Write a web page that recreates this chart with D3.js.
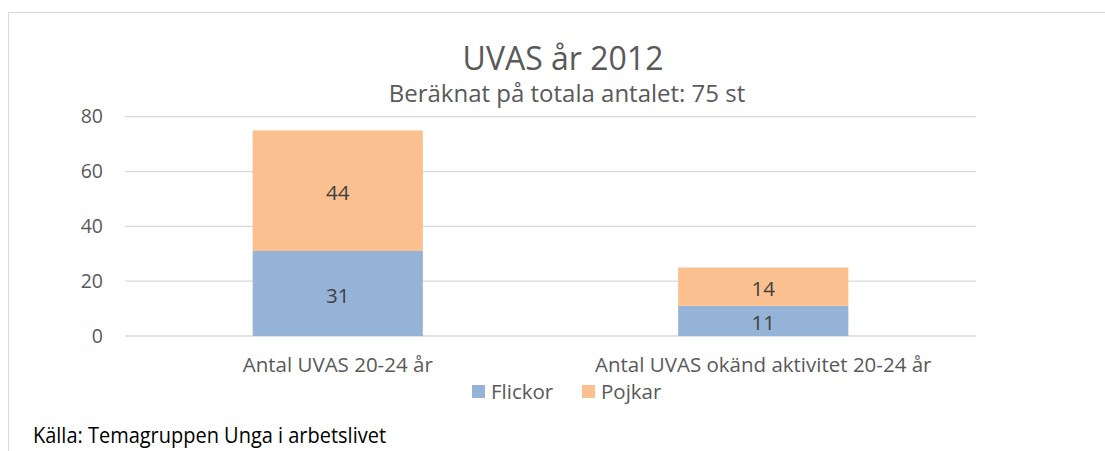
<!DOCTYPE html>
<html>
<head>
<meta charset="utf-8">
<script src="https://cdn.jsdelivr.net/npm/d3@7"></script>
<style>
  body { margin: 0; background: #fff; }
  svg { display: block; font-family: 'Open Sans', sans-serif; }
</style>
</head>
<body>
<svg></svg>
<script>
const categories = ['Antal UVAS 20-24 år', 'Antal UVAS okänd aktivitet 20-24 år'];
const seriesNames = ['Flickor', 'Pojkar'];
const flickor = [31, 11];
const pojkar = [44, 14];
const yTicks = [0, 20, 40, 60, 80];
const colors = ['#95b3d7', '#fac090'];

const width = 1105;
const height = 451;

const svg = d3.select('svg')
    .attr('width', width)
    .attr('height', height);

// chart frame
svg.append('rect')
    .attr('x', 8.5).attr('y', 12.5)
    .attr('width', 1110).attr('height', 450)
    .attr('fill', 'none')
    .attr('stroke', '#d9d9d9');

const x = d3.scaleBand()
    .domain(categories)
    .range([125, 976])
    .paddingInner(0.6)
    .paddingOuter(0.3);

const y = d3.scaleLinear()
    .domain([0, 80])
    .range([336, 116.7]);

// gridlines
svg.append('g')
    .selectAll('line')
    .data(yTicks)
    .enter()
    .append('line')
    .attr('x1', 125).attr('x2', 976)
    .attr('y1', d => y(d)).attr('y2', d => y(d))
    .attr('stroke', '#d9d9d9')
    .attr('stroke-width', 1.3);

const yAxis = d3.axisLeft(y).tickValues(yTicks).tickSize(0).tickPadding(0);
svg.append('g')
    .attr('transform', 'translate(103,0)')
    .call(yAxis)
    .call(g => g.select('.domain').remove())
    .selectAll('text')
    .attr('font-size', 19.5)
    .attr('font-family', "'Open Sans', sans-serif")
    .attr('fill', '#595959');

const table = categories.map((c, i) => ({ cat: c, Flickor: flickor[i], Pojkar: pojkar[i] }));
const stacked = d3.stack().keys(seriesNames)(table);

const layers = svg.append('g')
    .selectAll('g')
    .data(stacked)
    .enter()
    .append('g')
    .attr('fill', (d, i) => colors[i]);

layers.selectAll('rect')
    .data(d => d)
    .enter()
    .append('rect')
    .attr('x', d => x(d.data.cat))
    .attr('width', x.bandwidth())
    .attr('y', d => y(d[1]))
    .attr('height', d => y(d[0]) - y(d[1]));

layers.selectAll('text')
    .data(d => d)
    .enter()
    .append('text')
    .attr('x', d => x(d.data.cat) + x.bandwidth() / 2)
    .attr('y', d => (y(d[0]) + y(d[1])) / 2 + 2)
    .attr('dy', '0.35em')
    .attr('text-anchor', 'middle')
    .attr('font-size', 20.5)
    .attr('fill', '#404040')
    .text(d => d[1] - d[0]);

const xAxis = d3.axisBottom(x).tickSize(0).tickPadding(0);
svg.append('g')
    .attr('transform', 'translate(0,357)')
    .call(xAxis)
    .call(g => g.select('.domain').remove())
    .selectAll('text')
    .attr('font-size', 20.5)
    .attr('font-family', "'Open Sans', sans-serif")
    .attr('fill', '#595959');

// titles
svg.append('text')
    .attr('x', 563).attr('y', 70)
    .attr('text-anchor', 'middle')
    .attr('font-size', 32)
    .attr('fill', '#595959')
    .text('UVAS år 2012');

svg.append('text')
    .attr('x', 567).attr('y', 102)
    .attr('text-anchor', 'middle')
    .attr('font-size', 24)
    .attr('fill', '#595959')
    .text('Beräknat på totala antalet: 75 st');

// legend
const legend = svg.append('g')
    .selectAll('g')
    .data(seriesNames)
    .enter()
    .append('g')
    .attr('transform', (d, i) => 'translate(' + [472, 582][i] + ',385)');

legend.append('rect')
    .attr('width', 13).attr('height', 13)
    .attr('fill', (d, i) => colors[i]);

legend.append('text')
    .attr('x', 19).attr('y', 14)
    .attr('font-size', 20.5)
    .attr('fill', '#595959')
    .text(d => d);

svg.append('text')
    .attr('x', 33).attr('y', 443)
    .attr('font-size', 22)
    .attr('font-family', "'Open Sans', sans-serif")
    .attr('textLength', 353)
    .attr('lengthAdjust', 'spacingAndGlyphs')
    .attr('fill', '#000')
    .text('Källa: Temagruppen Unga i arbetslivet');
</script>
</body>
</html>
